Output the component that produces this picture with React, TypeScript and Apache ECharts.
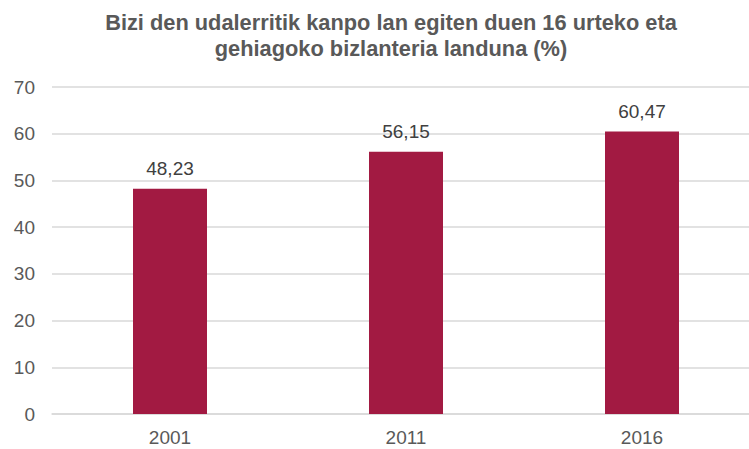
import React, { useEffect, useRef } from "react";
import * as echarts from "echarts";

const categories = ["2001", "2011", "2016"];
const values = [48.23, 56.15, 60.47];
const titleText = "Bizi den udalerritik kanpo lan egiten duen 16 urteko eta\ngehiagoko bizlanteria landuna (%)";

const FONT = "Liberation Sans, Arial, sans-serif";

export default function App() {
  const ref = useRef<HTMLDivElement>(null);
  useEffect(() => {
    const chart = echarts.init(ref.current!, null, { renderer: "svg" });
    chart.setOption({
      animation: false,
      textStyle: { fontFamily: FONT },
      title: {
        text: titleText,
        left: 386,
        textAlign: "center",
        top: 4,
        textStyle: {
          fontFamily: FONT,
          fontSize: 21.8,
          fontWeight: "bold",
          color: "#595959",
          lineHeight: 26,
        },
      },
      grid: { left: 52, right: 0, top: 87, bottom: 35, containLabel: false },
      xAxis: {
        type: "category",
        data: categories,
        axisLine: { show: true, lineStyle: { color: "#d9d9d9", width: 1.5 } },
        axisTick: { show: false },
        axisLabel: { color: "#595959", fontSize: 19, margin: 14, fontFamily: FONT },
      },
      yAxis: {
        type: "value",
        min: 0,
        max: 70,
        interval: 10,
        axisLine: { show: false },
        axisTick: { show: false },
        splitLine: { lineStyle: { color: "#d9d9d9", width: 1.5 } },
        axisLabel: { color: "#595959", fontSize: 19, margin: 17, fontFamily: FONT },
      },
      series: [
        {
          type: "bar",
          data: values,
          barWidth: 74,
          itemStyle: { color: "#a21a42" },
          label: {
            show: true,
            position: "top",
            distance: 11,
            color: "#404040",
            fontSize: 19,
            fontFamily: FONT,
            formatter: (p: any) => p.value.toFixed(2).replace(".", ","),
          },
        },
      ],
    });
    return () => chart.dispose();
  }, []);
  return (
    <div
      style={{ position: "absolute", left: 0, top: 0, width: 749, height: 449, overflow: "hidden", background: "#fff" }}
    >
      <div ref={ref} style={{ width: 760, height: 449 }} />
    </div>
  );
}
